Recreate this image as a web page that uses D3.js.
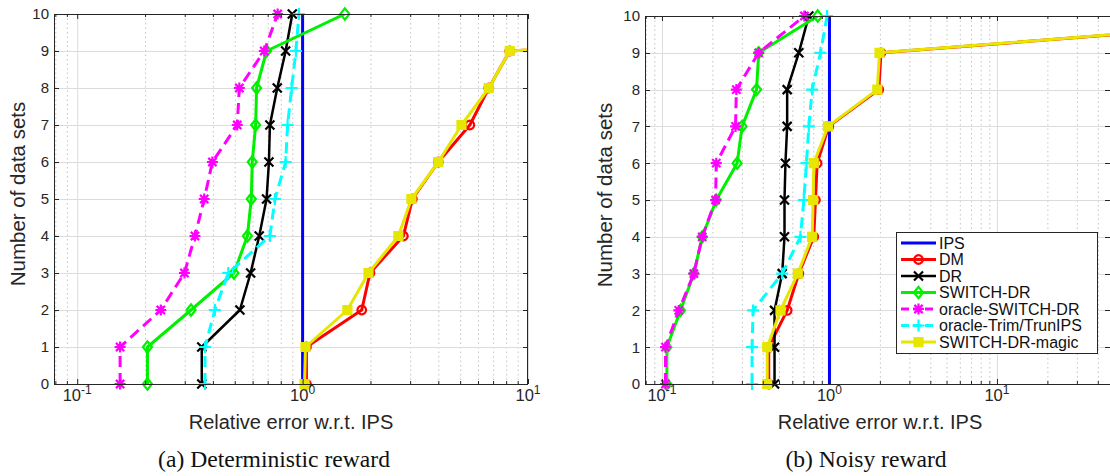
<!DOCTYPE html>
<html><head><meta charset="utf-8">
<script src="https://cdn.jsdelivr.net/npm/d3@7"></script>
<style>body{margin:0;background:#fff}svg{display:block}</style>
</head><body><svg id="c" width="1110" height="476"></svg>
<script>
// ---------- data ----------
const levels = [0,1,2,3,4,5,6,7,8,9,10];
const seriesNames = ["IPS","DM","DR","SWITCH-DR","oracle-SWITCH-DR","oracle-Trim/TrunIPS","SWITCH-DR-magic"];
const xTickExps = [-1,0,1];
const yTickLabels = ["0","1","2","3","4","5","6","7","8","9","10"];
const xTitle = "Relative error w.r.t. IPS";
const yTitle = "Number of data sets";
const captions = ["(a) Deterministic reward","(b) Noisy reward"];

// panel (a) deterministic reward
const ipsA      = [1,1,1,1,1,1,1,1,1,1,1];
const dmA       = [1.04,1.04,1.83,1.99,2.80,3.07,4.00,5.52,6.70,8.30,5000];
const drA       = [0.357,0.357,0.527,0.588,0.642,0.692,0.709,0.716,0.772,0.841,0.900];
const switchA   = [0.205,0.205,0.320,0.496,0.569,0.592,0.598,0.619,0.625,0.692,1.54];
const oracleSwA = [0.155,0.155,0.235,0.299,0.333,0.366,0.398,0.513,0.524,0.676,0.775];
const oracleTrA = [0.369,0.369,0.408,0.468,0.716,0.754,0.841,0.858,0.894,0.934,0.963];
const magicA    = [1.02,1.03,1.58,1.96,2.66,3.04,4.00,5.07,6.70,8.30,5000];

// panel (b) noisy reward
const ipsB      = [1,1,1,1,1,1,1,1,1,1,1];
const dmB       = [0.434,0.434,0.559,0.656,0.806,0.825,0.844,0.99,1.97,2.03,1400];
const drB       = [0.470,0.470,0.470,0.522,0.539,0.539,0.546,0.559,0.559,0.656,0.753];
const switchB   = [0.107,0.107,0.129,0.155,0.174,0.211,0.281,0.301,0.367,0.378,0.851];
const oracleSwB = [0.105,0.105,0.126,0.155,0.174,0.209,0.211,0.275,0.278,0.378,0.709];
const oracleTrB = [0.345,0.345,0.350,0.522,0.671,0.703,0.729,0.753,0.788,0.884,0.968];
const magicB    = [0.425,0.425,0.510,0.647,0.788,0.799,0.806,0.98,1.93,1.99,1300];

// ---------- styles ----------
const styles = [
  {color:"#0000ff", marker:"none",     dash:null,   w:3},
  {color:"#ff0000", marker:"circle",   dash:null,   w:3},
  {color:"#000000", marker:"x",        dash:null,   w:2.5},
  {color:"#00f000", marker:"diamond",  dash:null,   w:3},
  {color:"#ff00ff", marker:"asterisk", dash:"11,6", w:3},
  {color:"#00ffff", marker:"plus",     dash:"11,6", w:3},
  {color:"#e6e600", marker:"square",   dash:null,   w:3}
];
const axisColor = "#262626";
const sans = "'Liberation Sans', Arial, Helvetica, sans-serif";
const serif = "'Liberation Serif', 'Times New Roman', serif";

const svg = d3.select("#c");

function markerPath(type, s) {
  switch(type){
    case "x": return `M${-s},${-s}L${s},${s}M${-s},${s}L${s},${-s}`;
    case "plus": return `M${-s},0L${s},0M0,${-s}L0,${s}`;
    case "asterisk": {
      const d = s*0.75;
      return `M${-s},0L${s},0M0,${-s}L0,${s}M${-d},${-d}L${d},${d}M${-d},${d}L${d},${-d}`;
    }
    case "diamond": return `M0,${-s*1.25}L${s},0L0,${s*1.25}L${-s},0Z`;
    case "square": return `M${-s},${-s}H${s}V${s}H${-s}Z`;
    case "circle": { const p=d3.path(); p.arc(0,0,s,0,2*Math.PI); return p.toString(); }
  }
  return "";
}
const markerSize = {x:4.5, plus:6, asterisk:5.5, diamond:4.5, square:4, circle:4.3};

function drawPanel(cfg, data, idx) {
  const x = d3.scaleLog().domain(cfg.domain).range([cfg.x0, cfg.x1]);
  const y = d3.scaleLinear().domain([0,10]).range([cfg.yb, cfg.yt]);
  const g = svg.append("g");
  const clipId = "clip"+idx;
  svg.append("clipPath").attr("id",clipId).append("rect")
    .attr("x",cfg.x0).attr("y",cfg.yt-8).attr("width",cfg.x1-cfg.x0).attr("height",cfg.yb-cfg.yt+16);
  const clipBox = "clipb"+idx;
  svg.append("clipPath").attr("id",clipBox).append("rect")
    .attr("x",cfg.x0).attr("y",cfg.yt).attr("width",cfg.x1-cfg.x0).attr("height",cfg.yb-cfg.yt);

  // grid
  const grid = g.append("g");
  const [d0,d1] = x.domain();
  const minor=[], major=[];
  for (let e=-3;e<=4;e++) for (let m=1;m<=9;m++){
    const v = m*Math.pow(10,e);
    if (v>=d0*1.0001 && v<=d1*0.9999) (m===1?major:minor).push(v);
    else if (m===1 && Math.abs(v-d1)/d1<1e-4) major.push(v);
  }
  grid.selectAll(".mn").data(minor).join("line")
    .attr("x1",d=>x(d)+0.5).attr("x2",d=>x(d)+0.5).attr("y1",cfg.yt).attr("y2",cfg.yb)
    .attr("stroke","#c4c4c4").attr("stroke-width",1).attr("stroke-dasharray","1.5,3");
  grid.selectAll(".mj").data(major).join("line")
    .attr("x1",d=>x(d)+0.5).attr("x2",d=>x(d)+0.5).attr("y1",cfg.yt).attr("y2",cfg.yb)
    .attr("stroke","#dcdcdc").attr("stroke-width",1);
  grid.selectAll(".hy").data(levels).join("line")
    .attr("x1",cfg.x0).attr("x2",cfg.x1).attr("y1",d=>Math.round(y(d))+0.5).attr("y2",d=>Math.round(y(d))+0.5)
    .attr("stroke","#dcdcdc").attr("stroke-width",1);

  // series
  const plot = g.append("g").attr("clip-path",`url(#${clipId})`);
  data.forEach((vals,i)=>{
    const st = styles[i];
    const pts = vals.map((v,k)=>[x(v), y(levels[k])]);
    const sg = plot.append("g");
    sg.append("path").attr("d", d3.line()(pts)).attr("fill","none")
      .attr("stroke",st.color).attr("stroke-width",st.w)
      .attr("stroke-dasharray",st.dash).attr("stroke-linejoin","round")
      .attr("clip-path",`url(#${clipBox})`);
    if (st.marker!=="none"){
      sg.selectAll("path.m").data(pts.filter(p=>p[0]<=cfg.x1+6)).join("path").attr("class","m")
        .attr("transform",p=>`translate(${p[0]},${p[1]})`)
        .attr("d", markerPath(st.marker, markerSize[st.marker]))
        .attr("fill", st.marker==="square" ? st.color : "none")
        .attr("stroke", st.color).attr("stroke-width", 2.2);
    }
  });

  // axes box
  const ax = g.append("g").attr("stroke",axisColor).attr("stroke-width",1).attr("fill","none");
  ax.append("line").attr("x1",cfg.x0+0.5).attr("x2",cfg.x0+0.5).attr("y1",cfg.yt).attr("y2",cfg.yb+0.5);
  ax.append("line").attr("x1",cfg.x0).attr("x2",cfg.x1).attr("y1",cfg.yb+0.5).attr("y2",cfg.yb+0.5);
  ax.append("line").attr("x1",cfg.x0).attr("x2",cfg.x1).attr("y1",cfg.yt+0.5).attr("y2",cfg.yt+0.5);
  if (cfg.rightBorder) ax.append("line").attr("x1",cfg.x1-0.5).attr("x2",cfg.x1-0.5).attr("y1",cfg.yt).attr("y2",cfg.yb+0.5);
  // y ticks
  levels.forEach(l=>{
    const yy = Math.round(y(l))+0.5;
    ax.append("line").attr("x1",cfg.x0).attr("x2",cfg.x0+5).attr("y1",yy).attr("y2",yy);
    ax.append("line").attr("x1",cfg.x1-5).attr("x2",cfg.x1).attr("y1",yy).attr("y2",yy);
  });
  // x ticks
  major.concat(minor).forEach(v=>{
    const xx = x(v)+0.5, len = minor.includes(v)?3:5;
    ax.append("line").attr("x1",xx).attr("x2",xx).attr("y1",cfg.yb).attr("y2",cfg.yb-len);
    ax.append("line").attr("x1",xx).attr("x2",xx).attr("y1",cfg.yt).attr("y2",cfg.yt+len);
  });

  // tick labels
  const tl = g.append("g").attr("fill",axisColor).attr("font-family",sans);
  levels.forEach((l,k)=>{
    tl.append("text").attr("x",cfg.x0-5).attr("y",y(l)).attr("dy","0.36em")
      .attr("text-anchor","end").attr("font-size",15).text(yTickLabels[k]);
  });
  xTickExps.forEach(e=>{
    const t = tl.append("text").attr("x",x(Math.pow(10,e))).attr("y",cfg.yb+17)
      .attr("text-anchor","middle").attr("font-size",16.5);
    t.append("tspan").text("10");
    t.append("tspan").attr("font-size",12).attr("dy",-7.5).text(String(e));
  });
  // titles
  tl.append("text").attr("x",(cfg.x0+cfg.xTitleRight)/2).attr("y",429)
    .attr("text-anchor","middle").attr("font-size",20).text(xTitle);
  tl.append("text").attr("transform",`translate(${cfg.yLabelX},${(cfg.yt+cfg.yb)/2 - 5}) rotate(-90)`)
    .attr("text-anchor","middle").attr("font-size",20.5).text(yTitle);
  svg.append("text").attr("x",cfg.capX).attr("y",467).attr("text-anchor","middle")
    .attr("font-family",serif).attr("font-size",23.6).attr("fill","#111").text(captions[idx]);
  return {x,y,g};
}

drawPanel({x0:54, x1:528, yt:14, yb:384, domain:[0.0789,10], rightBorder:true,
  xTitleRight:528, yLabelX:25, capX:274},
  [ipsA,dmA,drA,switchA,oracleSwA,oracleTrA,magicA], 0);
drawPanel({x0:645, x1:1110, yt:16, yb:384, domain:[0.0792, 47.3], rightBorder:false,
  xTitleRight:1115, yLabelX:612, capX:866},
  [ipsB,dmB,drB,switchB,oracleSwB,oracleTrB,magicB], 1);

// legend (panel b)
const lg = svg.append("g");
const lx = 896, ly = 232, lw = 201, lh = 121, step = 16.5;
lg.append("rect").attr("x",lx+0.5).attr("y",ly+0.5).attr("width",lw).attr("height",lh)
  .attr("fill","#fff").attr("stroke",axisColor).attr("stroke-width",1);
seriesNames.forEach((name,i)=>{
  const st = styles[i];
  const yy = ly + 11 + i*step;
  lg.append("line").attr("x1",lx+5).attr("x2",lx+40).attr("y1",yy).attr("y2",yy)
    .attr("stroke",st.color).attr("stroke-width",st.w).attr("stroke-dasharray",st.dash?"8,4":null);
  if (st.marker!=="none") lg.append("path").attr("transform",`translate(${lx+22.5},${yy})`)
    .attr("d",markerPath(st.marker, markerSize[st.marker]))
    .attr("fill", st.marker==="square"?st.color:"none").attr("stroke",st.color).attr("stroke-width",2.2);
  lg.append("text").attr("x",lx+43).attr("y",yy).attr("dy","0.36em")
    .attr("font-family",sans).attr("font-size",16).attr("fill","#111").text(name);
});
</script></body></html>
